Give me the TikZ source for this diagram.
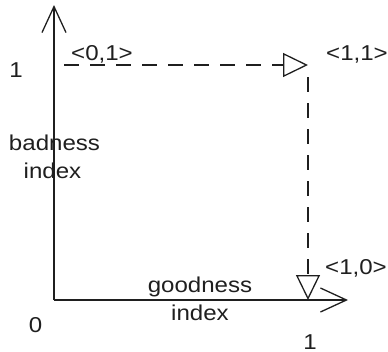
\documentclass[tikz,border=0pt]{standalone}
\usepackage{fontspec}
\setmainfont[FakeStretch=1.12]{Liberation Sans}
\usetikzlibrary{arrows.meta}
\begin{document}
\begin{tikzpicture}[x=1bp,y=-1bp,
  axis/.style={line width=1.5bp,draw=black!88,-{Straight Barb[length=26bp,width=24bp,line width=1.3bp]}},
  dashline/.style={line width=1.2bp,draw=black!88,dash pattern=on 15bp off 11bp,-{Triangle[open,length=25bp,width=24bp,line width=1.3bp,fill=white]}},
  lbl/.style={inner sep=0pt,anchor=base,font=\fontsize{21.5bp}{24bp}\selectfont,text=black!88}]
\useasboundingbox (0,0) rectangle (388,352);
\coordinate (o) at (54,300);
\coordinate (ytop) at (54,5);
\coordinate (xend) at (348,300);
\coordinate (p01) at (64,65);
\coordinate (p11) at (308,65);
\coordinate (p11b) at (308,77);
\coordinate (p10) at (308,300);
\draw[axis] (o) -- (xend);
\draw[axis] (o) -- (ytop);
\draw[dashline] (p01) -- (p11);
\draw[dashline] (p11b) -- (p10);
\node[lbl] (one1) at (16,77) {1};
\node[lbl] (zero) at (35.5,332) {0};
\node[lbl] (onex) at (310,349) {1};
\node[lbl] (l01) at (102,60) {<0,1>};
\node[lbl] (l11) at (357,60) {<1,1>};
\node[lbl] (l10) at (356,274) {<1,0>};
\node[lbl] (bad) at (54.5,150) {badness};
\node[lbl] (badi) at (52.5,178) {index};
\node[lbl] (good) at (200,292) {goodness};
\node[lbl] (goodi) at (200,320) {index};
\end{tikzpicture}
\end{document}
